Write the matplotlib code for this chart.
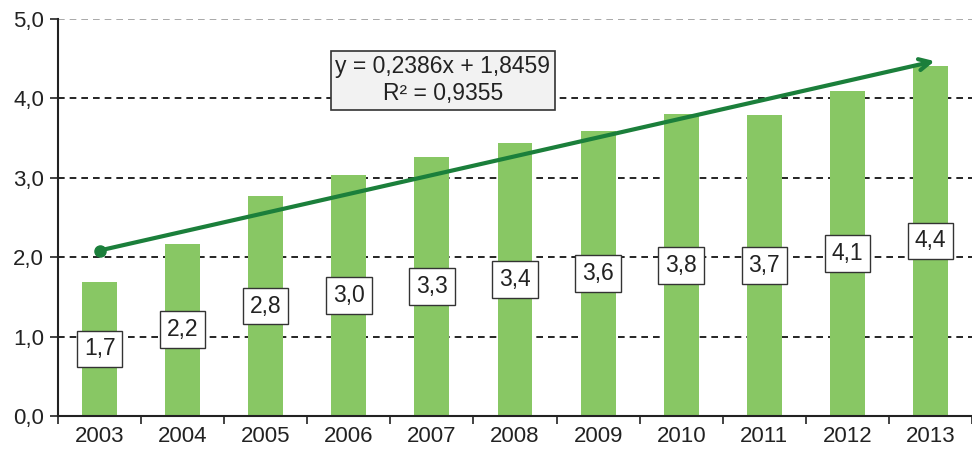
import numpy as np
import matplotlib
matplotlib.use('Agg')
import matplotlib.pyplot as plt

plt.rcParams['font.family'] = ['Liberation Sans', 'DejaVu Sans']

# data
years = ['2003', '2004', '2005', '2006', '2007', '2008', '2009', '2010', '2011', '2012', '2013']
bar_heights = [1.69, 2.17, 2.77, 3.04, 3.26, 3.44, 3.59, 3.80, 3.79, 4.09, 4.41]
bar_labels = ['1,7', '2,2', '2,8', '3,0', '3,3', '3,4', '3,6', '3,8', '3,7', '4,1', '4,4']
trend_slope = 0.2386
trend_intercept = 1.8459
trend_r2 = 0.9355
y_ticks = [0, 1, 2, 3, 4, 5]
y_ticklabels = ['0,0', '1,0', '2,0', '3,0', '4,0', '5,0']

bar_color = '#88c764'
trend_color = '#1b7f3b'

fig = plt.figure(figsize=(9.72, 4.5), dpi=100)
ax = fig.add_axes([0.0597, 0.0756, 0.9403, 0.882])

x = np.arange(len(years))
ax.bar(x, bar_heights, width=0.42, color=bar_color, zorder=2)

# labels in the middle of the bars
for xi, h, lab in zip(x, bar_heights, bar_labels):
    ax.text(xi, h / 2, lab, ha='center', va='center', fontsize=16.5, color='#222222', zorder=5,
            bbox=dict(boxstyle='square,pad=0.3', facecolor='white', edgecolor='#333333', linewidth=1))

# trend line with arrow
t0 = trend_slope * 1 + trend_intercept
t1 = trend_slope * len(years) + trend_intercept
ax.plot([x[0]], [t0], 'o', color=trend_color, markersize=8, zorder=4)
ax.annotate('', xy=(x[-1] + 0.05, t1), xytext=(x[0], t0),
            arrowprops=dict(arrowstyle='->,head_length=0.8,head_width=0.4', color=trend_color, lw=3,
                            shrinkA=0, shrinkB=0), zorder=4)

eq = f'y = {trend_slope:.4f}x + {trend_intercept:.4f}\nR² = {trend_r2:.4f}'.replace('.', ',')
ax.text(4.13, 4.23, eq, ha='center', va='center', fontsize=16.5, color='#222222', zorder=6,
        linespacing=1.2,
        bbox=dict(boxstyle='square,pad=0.2', facecolor='#f2f2f2', edgecolor='#333333', linewidth=1.2))

# grid
for yv in y_ticks[1:-1]:
    ax.axhline(yv, color='black', linestyle=(0, (4, 3)), linewidth=1.2, zorder=1)
ax.axhline(5, color='#999999', linestyle=(0, (4, 3)), linewidth=1.2, zorder=1)

ax.set_xlim(-0.5, len(years) - 0.5)
ax.set_ylim(0, 5)
ax.set_yticks(y_ticks)
ax.set_yticklabels(y_ticklabels, fontsize=16, color='#222222')
ax.set_xticks(x)
ax.set_xticklabels(years, fontsize=16, color='#222222')
ax.tick_params(axis='x', length=0, pad=7)
ax.set_xticks(np.arange(len(years) + 1) - 0.5, minor=True)
ax.tick_params(axis='x', which='minor', length=6, width=1.2, color='#222222')
ax.tick_params(axis='y', length=6, width=1.2, color='#222222', pad=4)

for s in ['top', 'right']:
    ax.spines[s].set_visible(False)
for s in ['left', 'bottom']:
    ax.spines[s].set_linewidth(1.5)
    ax.spines[s].set_color('#222222')

plt.savefig('out.png', dpi=100, facecolor='white')
plt.close()
